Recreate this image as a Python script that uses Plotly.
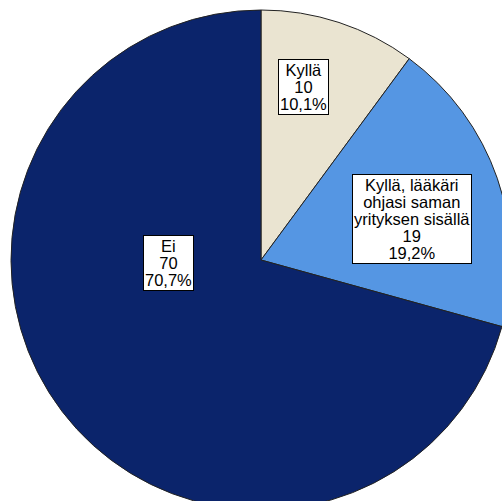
import plotly.graph_objects as go

# Answer categories, counts and slice colours
labels = ["Kyllä", "Kyllä, lääkäri<br>ohjasi saman<br>yrityksen sisällä", "Ei"]
counts = [10, 19, 70]
colors = ["#EAE4D1", "#5596E3", "#0B246B"]

# Where each boxed label sits (paper coordinates of the plot area)
label_x = [0.584, 0.802, 0.314]
label_y = [0.847, 0.582, 0.495]

total = sum(counts)
percent_text = [f"{100 * c / total:.1f}%".replace(".", ",") for c in counts]

fig = go.Figure(
    go.Pie(
        labels=labels,
        values=counts,
        sort=False,
        direction="clockwise",
        rotation=0,
        textinfo="none",
        showlegend=False,
        marker=dict(colors=colors, line=dict(color="#222222", width=1)),
    )
)


def big(line):
    # glyphs larger than the base size, so the lines sit tightly together
    return f"<span style='font-size:16.5px'>{line}</span>"


for lab, c, pct, x, y in zip(labels, counts, percent_text, label_x, label_y):
    lines = lab.split("<br>") + [str(c), pct]
    fig.add_annotation(
        text="<br>".join(big(s) for s in lines),
        x=x, y=y, xref="paper", yref="paper",
        xanchor="center", yanchor="middle",
        showarrow=False,
        align="center",
        bgcolor="white",
        bordercolor="black",
        borderwidth=1,
        borderpad=1,
        font=dict(family="Liberation Sans, Arial, sans-serif", size=13, color="black"),
    )

fig.update_layout(
    width=522,
    height=520,
    margin=dict(l=11, r=11, t=10, b=10),
    paper_bgcolor="white",
    plot_bgcolor="white",
)

fig.write_html(
    "out.html",
    post_script="document.body.style.margin='0';document.body.style.overflow='hidden';",
)
